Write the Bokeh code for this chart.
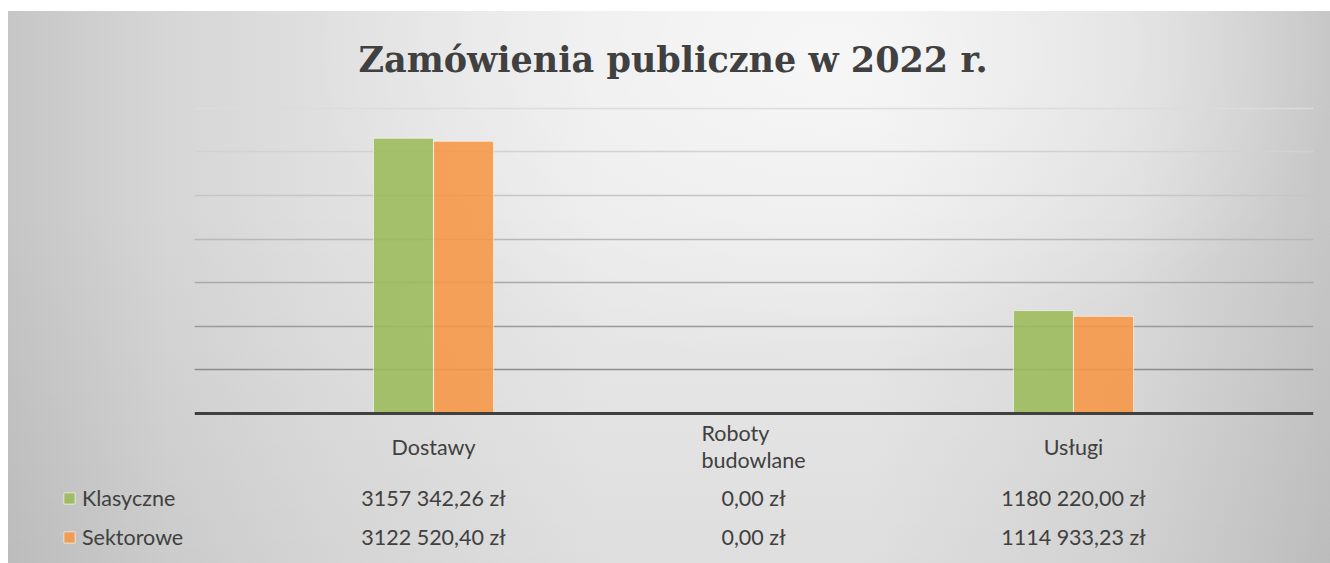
from bokeh.plotting import figure
from bokeh.layouts import row
from bokeh.models import ColumnDataSource, LabelSet, Legend, LegendItem, Grid, FixedTicker, Span
from bokeh.embed import file_html
from bokeh.resources import INLINE
from bokeh.core.properties import value

# ---- data ----
categories = ["Dostawy", "Roboty\nbudowlane", "Usługi"]
series_names = ["Klasyczne", "Sektorowe"]
klasyczne = [3157342.26, 0.00, 1180220.00]
sektorowe = [3122520.40, 0.00, 1114933.23]
grid_ticks = [500000, 1000000, 1500000, 2000000, 2500000, 3000000, 3500000]
grid_colors = ["#8c8c8c", "#9a9a9a", "#a9a9a9", "#b8b8b8", "#c6c6c6", "#d2d2d2", "#dcdcdc"]
series_colors = ["#9BBB59", "#F79646"]
title_text = "Zamówienia publiczne w 2022 r."


def pln(v):
    whole, frac = f"{v:.2f}".split(".")
    if len(whole) > 3:
        whole = whole[:-3] + " " + whole[-3:]
    return f"{whole},{frac} zł"


xs = list(range(len(categories)))
dodge = 0.094
bar_w = 0.1875
TXT = "21.5px"
TXT_COLOR = "#404040"

src = ColumnDataSource(dict(
    x=xs,
    xk=[x - dodge for x in xs],
    xs_=[x + dodge for x in xs],
    kl=klasyczne,
    se=sektorowe,
    cat=categories,
    kl_lab=[pln(v) for v in klasyczne],
    se_lab=[pln(v) for v in sektorowe],
))

H = 552
bar_style = dict(fill_alpha=0.88, line_color="#ffffff", line_alpha=0.6, line_width=1)


def clean(fig):
    fig.border_fill_color = None
    fig.background_fill_color = None
    fig.outline_line_color = None
    fig.xgrid.visible = False
    fig.ygrid.visible = False
    fig.xaxis.visible = False
    fig.yaxis.visible = False


# ---- left column: legend keys of the data table ----
left = figure(width=186, height=H, output_backend="svg", toolbar_location=None,
              x_range=(0, 1), y_range=(0, 1), min_border=0)
clean(left)
lk = left.vbar(x="xk", top="kl", width=bar_w, source=src, fill_color=series_colors[0], visible=False, **bar_style)
ls = left.vbar(x="xs_", top="se", width=bar_w, source=src, fill_color=series_colors[1], visible=False, **bar_style)
legend = Legend(items=[LegendItem(label=series_names[0], renderers=[lk]),
                       LegendItem(label=series_names[1], renderers=[ls])],
                location=(54, 13), orientation="vertical",
                glyph_width=14, glyph_height=14, label_height=20, spacing=13, label_standoff=6,
                padding=0, margin=0, border_line_alpha=0, background_fill_alpha=0,
                inactive_fill_alpha=0,
                label_text_font="Lato", label_text_font_size=TXT, label_text_color=TXT_COLOR)
left.add_layout(legend)

# ---- main chart ----
p = figure(width=1136, height=H, output_backend="svg", toolbar_location=None,
           x_range=(-0.747, 2.75), y_range=(-1720000, 3590000),
           min_border_left=0, min_border_right=17, min_border_top=89, min_border_bottom=0)
clean(p)
for t, c in zip(grid_ticks, grid_colors):
    p.add_layout(Grid(dimension=1, ticker=FixedTicker(ticks=[t]), grid_line_color=c, grid_line_width=1.4))

p.vbar(x="xk", top="kl", width=bar_w, source=src, fill_color=series_colors[0], **bar_style)
p.vbar(x="xs_", top="se", width=bar_w, source=src, fill_color=series_colors[1], **bar_style)

p.add_layout(Span(location=0, dimension="width", line_color="#404040", line_width=3))

p.title.text = title_text
p.title.text_font = "DejaVu Serif"
p.title.text_font_style = "bold"
p.title.text_font_size = "35px"
p.title.text_color = "#404040"
p.title.align = "left"
p.title.offset = 164
p.title.standoff = 41

common = dict(source=src, x_units="data", y_units="screen", text_font=value("Lato"), text_font_size=TXT,
              text_color=TXT_COLOR, text_align="center", text_baseline="middle")
p.add_layout(LabelSet(x="x", y=117, text="cat", text_line_height=1.05, **common))
p.add_layout(LabelSet(x="x", y=66, text="kl_lab", **common))
p.add_layout(LabelSet(x="x", y=27, text="se_lab", **common))

layout = row(left, p, spacing=0)
layout.styles = {
    "margin-top": "11px",
    "margin-left": "8px",
    "background": ("radial-gradient(ellipse 520px 320px at 820px 40px, rgba(255,255,255,0.6), rgba(255,255,255,0) 100%), "
                   "linear-gradient(to bottom, rgba(0,0,0,0) 35%, rgba(0,0,0,0.05) 100%), "
                   "linear-gradient(to right, #c6c6c6 0%, #d6d6d6 12%, #e0e0e0 25%, #eaeaea 45%, #eaeaea 65%, #dcdcdc 85%, #c6c6c6 100%)"),
}

open("out.html", "w").write(file_html(layout, INLINE))
